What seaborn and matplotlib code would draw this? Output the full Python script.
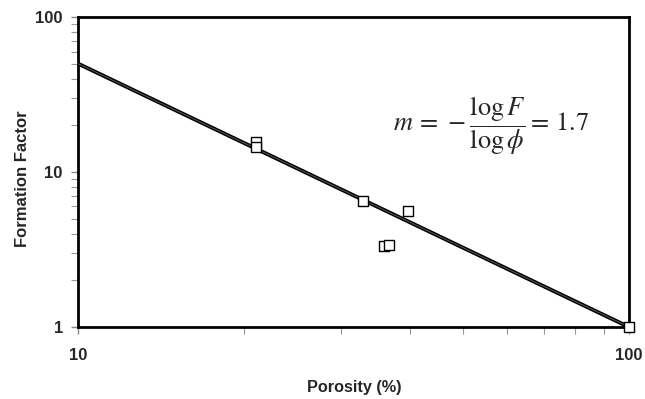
import numpy as np
import pandas as pd
import matplotlib
matplotlib.use("Agg")
import matplotlib.pyplot as plt
import seaborn as sns

# Measured samples: porosity (%) and formation factor
porosity = [21.0, 21.0, 32.9, 39.7, 35.9, 36.7, 100.0]
formation_factor = [15.6, 14.5, 6.5, 5.6, 3.33, 3.40, 1.0]

# Archie cementation exponent for the fitted line
m_exp = 1.7
fit_porosity = [10.0, 100.0]

sns.set_theme(style="ticks")
plt.rcParams["font.family"] = ["Liberation Sans", "DejaVu Sans"]
plt.rcParams["mathtext.fontset"] = "stix"

samples = pd.DataFrame({"porosity": porosity, "F": formation_factor})
fit = pd.DataFrame({"porosity": fit_porosity})
fit["F"] = (fit["porosity"] / 100.0) ** (-m_exp)

fig = plt.figure(figsize=(6.45, 3.99), dpi=100)
ax = fig.add_axes([0.121, 0.1805, 0.854, 0.7765])

sns.lineplot(data=fit, x="porosity", y="F", ax=ax, color="black", lw=2.8, zorder=2)
sns.lineplot(data=fit, x="porosity", y="F", ax=ax, color="#5a5a5a", lw=0.7, zorder=3)
sns.scatterplot(data=samples, x="porosity", y="F", ax=ax, marker="s", s=60,
                facecolor="white", edgecolor="black", linewidth=1.0, zorder=4,
                clip_on=False)

ax.set_xscale("log")
ax.set_yscale("log")
ax.set_xlim(10, 100)
ax.set_ylim(1, 100)
ax.set_xticks([10, 100])
ax.set_yticks([1, 10, 100])
ax.set_xticklabels(["10", "100"])
ax.set_yticklabels(["1", "10", "100"])

for s in ax.spines.values():
    s.set_linewidth(2.0)
    s.set_color("black")

ax.tick_params(which="major", length=5, width=1, color="#888888", labelsize=12, pad=6)
ax.tick_params(which="minor", length=5, width=0.8, color="#999999")
ax.tick_params(axis="x", which="major", pad=10)
ax.tick_params(axis="x", which="minor", labelbottom=False)
for lbl in ax.get_xticklabels() + ax.get_yticklabels():
    lbl.set_fontweight("bold")

ax.set_xlabel("Porosity (%)", fontsize=11.7, fontweight="bold")
ax.set_ylabel("Formation Factor", fontsize=12, fontweight="bold")
ax.xaxis.set_label_coords(0.502, -0.172)
ax.yaxis.set_label_coords(-0.088, 0.48)

ax.text(0.572, 0.648, r"$m\,=\,-\dfrac{\log F}{\log \phi}=\,1.7$",
        transform=ax.transAxes, fontsize=19, ha="left", va="center")

fig.savefig("out.png", dpi=100)
